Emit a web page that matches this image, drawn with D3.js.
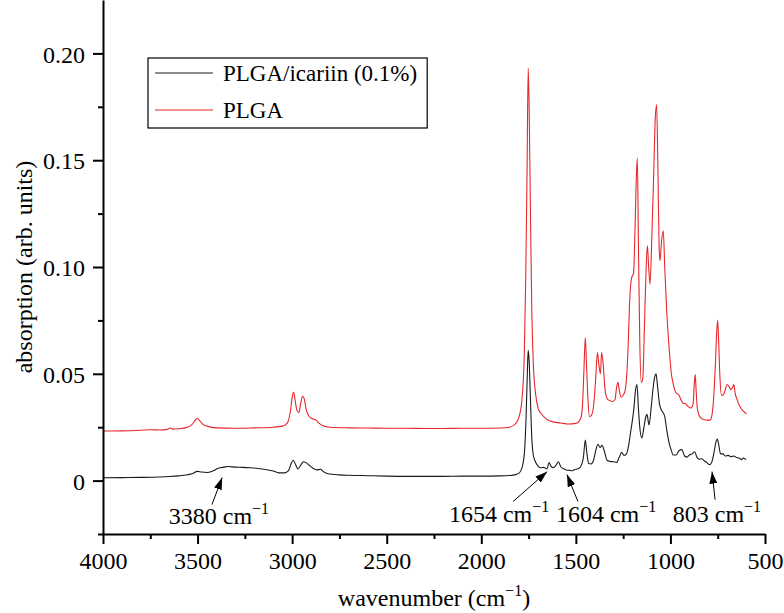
<!DOCTYPE html>
<html>
<head>
<meta charset="utf-8">
<script src="https://cdn.jsdelivr.net/npm/d3@7"></script>
<style>
  body { margin: 0; background: #fff; }
  .axis path, .axis line { stroke: #000; stroke-width: 2; }
</style>
</head>
<body>
<svg id="ftir"></svg>
<script>
const FONT = "Liberation Serif, Times New Roman, serif";

// Series names and colours
const seriesNames = ["PLGA/icariin (0.1%)", "PLGA"];
const seriesColors = ["#1a1a1a", "#e8262b"];

// PLGA/icariin (0.1%) spectrum: wavenumber (cm-1), absorption
const icariinWn = [4000,3900,3800,3700,3650,3600,3560,3530,3500,3480,3450,3420,3390,3360,3340,3300,3260,3220,3180,3140,3100,3070,3040,3020,3005,2994,2982,2970,2955,2940,2925,2910,2890,2870,2850,2835,2810,2750,2700,2600,2500,2400,2300,2200,2100,2000,1900,1850,1820,1800,1785,1772,1763,1756,1752,1747,1740,1733,1725,1712,1700,1685,1670,1660,1652,1642,1632,1620,1605,1592,1580,1565,1550,1535,1520,1505,1490,1475,1460,1450,1442,1432,1420,1405,1395,1383,1372,1362,1350,1335,1320,1300,1285,1270,1258,1245,1232,1220,1210,1203,1193,1185,1177,1170,1162,1151,1140,1130,1124,1113,1102,1092,1082,1076,1068,1058,1048,1040,1030,1020,1008,995,986,970,955,940,925,912,900,885,872,860,848,835,820,808,800,790,780,770,758,752,745,735,722,710,695,680,665,650,635,625,615,600];
const icariinAbs = [0.0013,0.0014,0.0015,0.0017,0.0019,0.0022,0.0026,0.0032,0.0043,0.0040,0.0038,0.0045,0.0058,0.0063,0.0066,0.0063,0.0062,0.0060,0.0057,0.0052,0.0045,0.0036,0.0036,0.0045,0.0080,0.0095,0.0075,0.0055,0.0072,0.0088,0.0083,0.0072,0.0058,0.0050,0.0053,0.0042,0.0032,0.0027,0.0025,0.0023,0.0021,0.0020,0.0020,0.0020,0.0021,0.0021,0.0022,0.0024,0.0028,0.0035,0.0060,0.0130,0.0300,0.0520,0.0610,0.0560,0.0380,0.0200,0.0120,0.0085,0.0068,0.0060,0.0062,0.0057,0.0055,0.0085,0.0068,0.0060,0.0072,0.0088,0.0065,0.0055,0.0050,0.0048,0.0046,0.0052,0.0055,0.0065,0.0110,0.0190,0.0130,0.0080,0.0078,0.0100,0.0140,0.0170,0.0155,0.0165,0.0140,0.0095,0.0090,0.0088,0.0085,0.0110,0.0132,0.0118,0.0125,0.0170,0.0230,0.0270,0.0340,0.0420,0.0450,0.0350,0.0250,0.0200,0.0250,0.0300,0.0310,0.0260,0.0340,0.0430,0.0490,0.0500,0.0440,0.0360,0.0330,0.0320,0.0300,0.0240,0.0180,0.0140,0.0120,0.0120,0.0140,0.0145,0.0115,0.0110,0.0120,0.0125,0.0135,0.0110,0.0100,0.0102,0.0092,0.0085,0.0078,0.0075,0.0090,0.0130,0.0185,0.0195,0.0170,0.0125,0.0125,0.0115,0.0118,0.0112,0.0115,0.0108,0.0105,0.0098,0.0105,0.0098];

// PLGA spectrum
const plgaWn = [4000,3900,3800,3750,3700,3660,3645,3630,3600,3560,3530,3510,3500,3490,3470,3450,3400,3300,3200,3100,3050,3025,3010,2998,2992,2985,2975,2965,2955,2945,2937,2925,2910,2890,2876,2860,2840,2800,2700,2600,2500,2400,2300,2200,2100,2000,1900,1850,1820,1800,1785,1773,1765,1758,1752,1747,1740,1733,1725,1712,1700,1685,1670,1650,1620,1580,1540,1500,1475,1465,1458,1450,1444,1436,1428,1418,1405,1395,1386,1378,1370,1364,1357,1345,1332,1320,1305,1293,1284,1277,1270,1260,1250,1240,1232,1224,1215,1205,1195,1188,1181,1175,1169,1162,1154,1146,1138,1130,1122,1115,1108,1098,1088,1080,1073,1066,1060,1055,1047,1038,1030,1020,1006,995,985,970,955,945,933,920,905,890,880,874,869,864,858,848,835,820,805,792,782,772,762,755,750,745,738,730,722,712,700,690,680,672,665,658,648,635,620,608,598];
const plgaAbs = [0.0232,0.0233,0.0236,0.0238,0.0237,0.0240,0.0246,0.0241,0.0243,0.0248,0.0262,0.0285,0.0292,0.0282,0.0262,0.0255,0.0247,0.0245,0.0247,0.0250,0.0255,0.0270,0.0320,0.0400,0.0415,0.0380,0.0330,0.0318,0.0360,0.0395,0.0385,0.0330,0.0300,0.0288,0.0285,0.0270,0.0258,0.0250,0.0247,0.0246,0.0245,0.0245,0.0244,0.0244,0.0245,0.0245,0.0246,0.0250,0.0265,0.0300,0.0380,0.0580,0.0950,0.1450,0.1930,0.1750,0.1250,0.0800,0.0550,0.0400,0.0340,0.0315,0.0300,0.0285,0.0275,0.0270,0.0265,0.0268,0.0290,0.0350,0.0500,0.0670,0.0550,0.0380,0.0300,0.0305,0.0360,0.0480,0.0600,0.0540,0.0500,0.0600,0.0560,0.0420,0.0380,0.0375,0.0370,0.0380,0.0440,0.0460,0.0420,0.0390,0.0400,0.0420,0.0480,0.0620,0.0850,0.0950,0.0970,0.1150,0.1400,0.1510,0.1100,0.0650,0.0460,0.0480,0.0700,0.0950,0.1100,0.1000,0.0920,0.1150,0.1450,0.1700,0.1760,0.1450,0.1100,0.1030,0.1120,0.1170,0.1000,0.0800,0.0610,0.0500,0.0450,0.0410,0.0400,0.0380,0.0362,0.0360,0.0345,0.0340,0.0360,0.0450,0.0496,0.0420,0.0340,0.0305,0.0290,0.0285,0.0283,0.0283,0.0300,0.0380,0.0550,0.0700,0.0750,0.0650,0.0480,0.0400,0.0400,0.0420,0.0450,0.0440,0.0425,0.0435,0.0450,0.0410,0.0380,0.0350,0.0330,0.0320,0.0312];

// Axis ticks
const xTicks = [4000,3500,3000,2500,2000,1500,1000,500];
const xMinorTicks = [3750,3250,2750,2250,1750,1250,750];
const yTicks = [0,0.05,0.10,0.15,0.20];
const yTickLabels = ["0","0.05","0.10","0.15","0.20"];
const yMinorTicks = [-0.025,0.025,0.075,0.125,0.175];

// Peak annotations: label, arrow tip (wn, abs), arrow tail (wn, abs), label anchor (wn, abs)
const annLabels = ["3380", "1654", "1604", "803"];
const annTipWn = [3370, 1652, 1547, 780];
const annTipAbs = [0.0014, 0.0042, 0.0028, 0.0042];
const annTailWn = [3424, 1832, 1489, 764];
const annTailAbs = [-0.0112, -0.0098, -0.0098, -0.0089];
const annTextWn = [3387, 1906, 1340, 754];
const annTextAbs = [-0.0205, -0.0195, -0.0195, -0.0195];

// Dimensions
const W = 784, H = 613;
let margin = {top: 0, right: 19, bottom: 79, left: 103},
    width = W - margin.left - margin.right,
    height = H - margin.top - margin.bottom;

let x = d3.scaleLinear().domain([4000, 500]).range([0, width]);
let y = d3.scaleLinear().domain([-0.025, 0.225]).range([height, 0]);

let svg = d3.select("#ftir").attr("width", W).attr("height", H)
    .attr("font-family", FONT);
let g = svg.append("g").attr("transform", "translate(" + margin.left + "," + margin.top + ")");

let defs = svg.append("defs");
defs.append("marker")
    .attr("id", "arrow")
    .attr("viewBox", "0 0 12 8")
    .attr("refX", 12).attr("refY", 4)
    .attr("markerWidth", 12).attr("markerHeight", 8)
    .attr("markerUnits", "userSpaceOnUse")
    .attr("orient", "auto")
    .append("path").attr("d", "M0,0 L12,4 L0,8 Z").attr("fill", "#000");

// Spectra
let line = d3.line()
    .x(function(d) { return x(d[0]); })
    .y(function(d) { return y(d[1]); })
    .curve(d3.curveMonotoneX);

const spectra = [d3.zip(icariinWn, icariinAbs), d3.zip(plgaWn, plgaAbs)];
g.selectAll(".spec")
    .data(spectra)
    .enter().append("path")
    .attr("class", "spec")
    .attr("fill", "none")
    .attr("stroke", function(d, i) { return seriesColors[i]; })
    .attr("stroke-width", 1.1)
    .attr("stroke-linejoin", "round")
    .attr("d", line);

// Minor ticks
g.append("g").attr("class", "axis")
    .attr("transform", "translate(0," + height + ")")
    .call(d3.axisBottom(x).tickValues(xMinorTicks).tickSize(5).tickSizeOuter(0).tickFormat(""))
    .select(".domain").remove();
g.append("g").attr("class", "axis")
    .call(d3.axisLeft(y).tickValues(yMinorTicks).tickSize(5).tickSizeOuter(0).tickFormat(""))
    .select(".domain").remove();

// Major axes
let xAxis = g.append("g").attr("class", "x axis")
    .attr("transform", "translate(0," + height + ")")
    .call(d3.axisBottom(x).tickValues(xTicks).tickSize(10).tickSizeOuter(0).tickPadding(8)
        .tickFormat(d3.format("d")));
let yAxis = g.append("g").attr("class", "y axis")
    .call(d3.axisLeft(y).tickValues(yTicks).tickSize(10).tickSizeOuter(0).tickPadding(8)
        .tickFormat(function(d, i) { return yTickLabels[i]; }));
g.selectAll(".axis").attr("font-family", FONT).attr("font-size", 24);
g.selectAll(".axis text").attr("fill", "#000");
yAxis.selectAll("text").attr("dy", "0.36em");

// Axis titles
let xt = svg.append("text")
    .attr("x", margin.left + width / 2).attr("y", 606)
    .attr("text-anchor", "middle").attr("font-size", 24);
xt.append("tspan").text("wavenumber (cm");
xt.append("tspan").attr("font-size", 16).attr("dy", -10).text("\u22121");
xt.append("tspan").attr("dy", 10).text(")");

svg.append("text")
    .attr("transform", "translate(32," + (margin.top + height / 2) + ") rotate(-90)")
    .attr("text-anchor", "middle").attr("font-size", 24)
    .text("absorption (arb. units)");

// Annotations
for (let i = 0; i < annLabels.length; i++) {
    g.append("line")
        .attr("x1", x(annTailWn[i])).attr("y1", y(annTailAbs[i]))
        .attr("x2", x(annTipWn[i])).attr("y2", y(annTipAbs[i]))
        .attr("stroke", "#000").attr("stroke-width", 1)
        .attr("marker-end", "url(#arrow)");
    let t = g.append("text")
        .attr("x", x(annTextWn[i])).attr("y", y(annTextAbs[i]))
        .attr("text-anchor", "middle").attr("font-size", 24);
    t.append("tspan").text(annLabels[i] + " cm");
    t.append("tspan").attr("font-size", 16).attr("dy", -10).text("\u22121");
}

// Legend
let legend = g.append("g").attr("transform", "translate(45,58)");
let box = legend.append("rect")
    .attr("height", 70)
    .attr("fill", "#fff").attr("stroke", "#000").attr("stroke-width", 1.2);
let maxW = 0;
seriesNames.forEach(function(name, i) {
    let row = legend.append("g").attr("transform", "translate(0," + (15 + i * 37) + ")");
    row.append("line").attr("x1", 7).attr("x2", 65)
        .attr("stroke", seriesColors[i]).attr("stroke-width", 1.2);
    let t = row.append("text").attr("x", 75).attr("y", 0).attr("dy", "0.35em")
        .attr("font-size", 23).text(name);
    maxW = Math.max(maxW, t.node().getComputedTextLength());
});
box.attr("width", 75 + maxW + 10);
</script>
</body>
</html>
